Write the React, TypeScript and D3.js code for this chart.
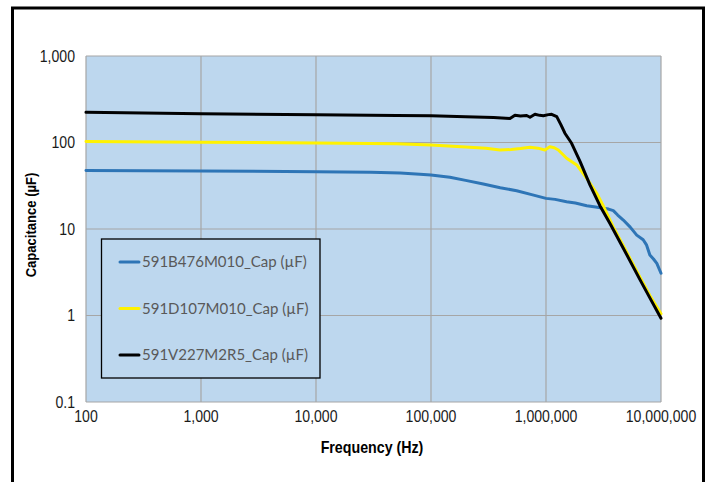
import React from "react";
import * as d3 from "d3";

const xTicks = [100, 1000, 10000, 100000, 1000000, 10000000];
const yTicks = [0.1, 1, 10, 100, 1000];

const seriesNames = ["591B476M010_Cap (µF)", "591D107M010_Cap (µF)", "591V227M2R5_Cap (µF)"];
const seriesColors = ["#2E75B6", "#FFF200", "#000000"];

const blueFreq = [100, 1000, 10000, 30000, 54000, 80000, 100000, 146000, 200000, 285000, 400000, 556000, 750000, 1000000, 1200000, 1510000, 1800000, 2260000, 2700000, 3150000, 3500000, 3850000, 4200000, 4700000, 5400000, 6150000, 7000000, 7500000, 8000000, 8600000, 9200000, 10000000];
const blueCap = [47.5, 46.9, 45.9, 45.2, 44.5, 43, 42, 39.6, 36.5, 33.1, 30, 27.7, 25, 22.6, 22, 20.7, 20, 18.6, 18, 17.4, 17, 16.3, 14.5, 12.7, 10.5, 8.5, 7.5, 6.5, 5.0, 4.5, 4.0, 3.08];

const yellowFreq = [100, 1000, 10000, 50000, 100000, 200000, 300000, 398000, 500000, 600000, 726000, 850000, 979000, 1080000, 1180000, 1280000, 1510000, 1850000, 2260000, 2760000, 3150000, 3850000, 4700000, 6150000, 8000000, 10000000];
const yellowCap = [103, 101, 98.7, 97, 93.6, 89, 86, 82, 83, 85, 88, 86, 82, 89.4, 87, 82, 65.7, 55, 38.6, 25.9, 18.5, 10.5, 6.4, 3.25, 1.7, 1.05];

const blackFreq = [100, 1000, 10000, 50000, 100000, 200000, 350000, 486000, 537000, 600000, 679000, 726000, 802000, 880000, 948000, 1050000, 1120000, 1240000, 1350000, 1460000, 1670000, 1980000, 2410000, 2950000, 3600000, 4700000, 6560000, 8000000, 10000000];
const blackCap = [223, 215, 210, 205, 204, 199, 195, 190, 207, 203, 205, 196, 212, 206, 204, 210, 212, 199, 160, 128, 98, 60, 32.3, 18.5, 11.6, 6.0, 2.6, 1.6, 0.93];

const W = 711;
const H = 482;
const plot = { left: 86, right: 661, top: 56, bottom: 402 };
const tickFont = "'Liberation Sans', Arial, sans-serif";
const legendFont = "Lato, 'Noto Sans', sans-serif";
const narrow = 0.88;

export default function App() {
  const x = d3.scaleLog().domain([100, 10000000]).range([plot.left, plot.right]);
  const y = d3.scaleLog().domain([0.1, 1000]).range([plot.bottom, plot.top]);
  const fmt = d3.format(",");

  const series = [
    { f: blueFreq, v: blueCap },
    { f: yellowFreq, v: yellowCap },
    { f: blackFreq, v: blackCap },
  ];
  const line = d3
    .line<[number, number]>()
    .x((d) => x(d[0]))
    .y((d) => y(d[1]));

  const legend = { x0: 101.5, y0: 239, x1: 320, y1: 378 };
  const legendY = [262, 308.5, 355];

  return (
    <svg width={W} height={H} style={{ position: "absolute", left: 0, top: 0, background: "#fff" }}>
      <rect x={12.5} y={8} width={691} height={490} fill="#fff" stroke="#000" strokeWidth={3} />
      <rect x={plot.left} y={plot.top} width={plot.right - plot.left} height={plot.bottom - plot.top} fill="#BDD7EE" />
      {xTicks.map((t) => (
        <line key={"gx" + t} x1={x(t)} x2={x(t)} y1={plot.top} y2={plot.bottom} stroke="#A6A6A6" strokeWidth={1.2} />
      ))}
      {yTicks.map((t) => (
        <line key={"gy" + t} x1={plot.left} x2={plot.right} y1={y(t)} y2={y(t)} stroke="#A6A6A6" strokeWidth={1.2} />
      ))}
      {yTicks.map((t) => (
        <text
          key={"ty" + t}
          transform={`translate(75,${y(t)}) scale(${narrow},1)`}
          dy="0.35em"
          textAnchor="end"
          fontFamily={tickFont}
          fontSize={16}
          fill="#1a1a1a"
        >
          {t < 1 ? String(t) : fmt(t)}
        </text>
      ))}
      {xTicks.map((t) => (
        <text
          key={"tx" + t}
          transform={`translate(${x(t)},416) scale(${narrow},1)`}
          dy="0.35em"
          textAnchor="middle"
          fontFamily={tickFont}
          fontSize={16}
          fill="#1a1a1a"
        >
          {fmt(t)}
        </text>
      ))}
      <text
        transform="translate(372,447) scale(0.89,1)"
        dy="0.35em"
        textAnchor="middle"
        fontFamily={tickFont}
        fontSize={16}
        fontWeight="bold"
        fill="#000"
      >
        Frequency (Hz)
      </text>
      <text
        transform="translate(31,225) rotate(-90) scale(0.87,1)"
        dy="0.35em"
        textAnchor="middle"
        fontFamily={tickFont}
        fontSize={15}
        fontWeight="bold"
        fill="#000"
      >
        Capacitance (µF)
      </text>
      {series.map((s, i) => (
        <path
          key={"s" + i}
          d={line(s.f.map((f, j) => [f, s.v[j]] as [number, number])) || ""}
          fill="none"
          stroke={seriesColors[i]}
          strokeWidth={3}
          strokeLinejoin="round"
          strokeLinecap="round"
        />
      ))}
      <rect
        x={legend.x0}
        y={legend.y0}
        width={legend.x1 - legend.x0}
        height={legend.y1 - legend.y0}
        fill="#BDD7EE"
        stroke="#000"
        strokeWidth={1.3}
      />
      {seriesNames.map((n, i) => (
        <g key={"l" + i}>
          <line x1={120} x2={139} y1={legendY[i]} y2={legendY[i]} stroke={seriesColors[i]} strokeWidth={3} strokeLinecap="round" />
          <text x={142} y={legendY[i]} dy="0.35em" fontFamily={legendFont} fontSize={15} fill="#595959">
            {n}
          </text>
        </g>
      ))}
    </svg>
  );
}
